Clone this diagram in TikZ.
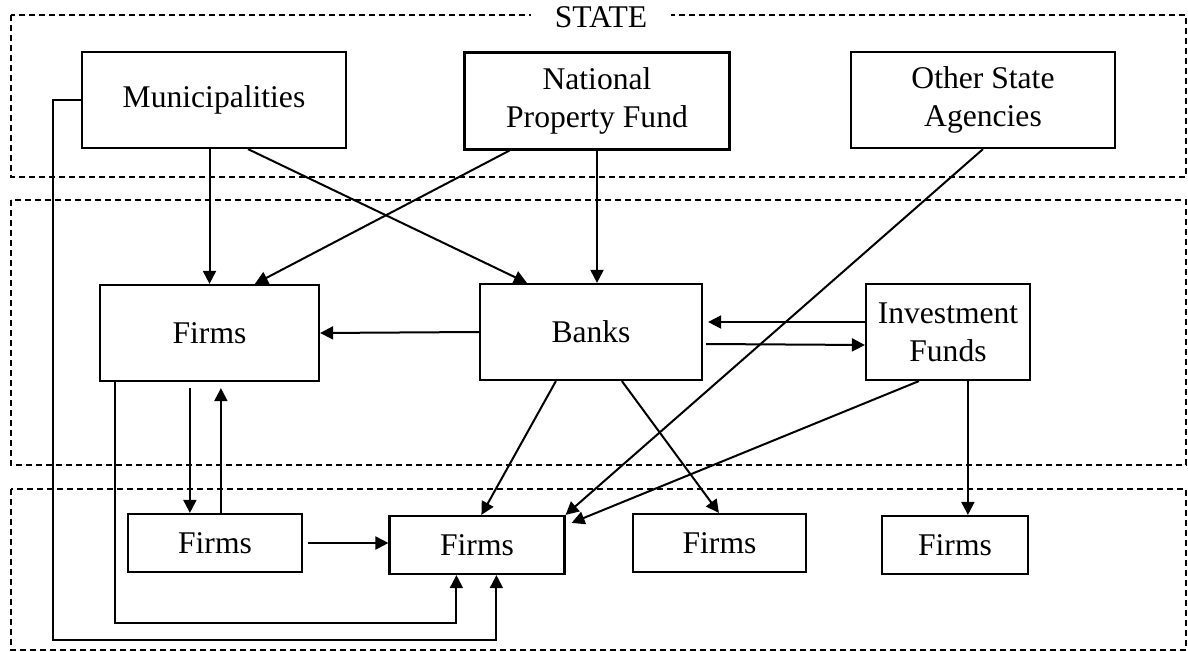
\documentclass[tikz,border=0pt]{standalone}
\usepackage{fontspec}
\setmainfont{Liberation Serif}
\usetikzlibrary{arrows.meta,calc}

\begin{document}
\begin{tikzpicture}[x=0.5pt,y=-0.5pt,line width=1pt,
  font=\fontsize{15.8}{19}\selectfont,
  box/.style={draw,rectangle,inner sep=0pt,align=center,line width=1.1pt},
  region/.style={draw,dash pattern=on 3pt off 2pt},
  arr/.style={-{Triangle[length=6.5pt,width=6.5pt]}}]
\useasboundingbox (0,0) rectangle (1188,652);

% dashed areas
\draw[region] (11,15) rectangle (1186,177);
\draw[region] (11,200) rectangle (1186,465);
\draw[region] (11,489) rectangle (1186,650);
\node[fill=white,inner xsep=12pt,inner ysep=1pt] (state) at (601,17) {STATE};

% state level
\node[box,minimum width=132pt,minimum height=48pt] (muni) at (214,100) {Municipalities};
\node[box,minimum width=132.5pt,minimum height=48.5pt] (npf) at (597,101) {National\\Property Fund};
\node[box,minimum width=132pt,minimum height=48pt] (osa) at (983,100) {Other State\\Agencies};

% middle level
\node[box,minimum width=109.5pt,minimum height=48pt] (firmsM) at (209.5,333) {Firms};
\node[box,minimum width=111pt,minimum height=48pt] (banks) at (591,332) {Banks};
\node[box,minimum width=82pt,minimum height=48pt] (invest) at (948,332) {Investment\\Funds};

% bottom level
\node[box,minimum width=87pt,minimum height=29pt] (fbA) at (215,543) {Firms};
\node[box,minimum width=87.5pt,minimum height=29pt] (fbB) at (477,545) {Firms};
\node[box,minimum width=86.5pt,minimum height=29pt] (fbC) at (719.5,543) {Firms};
\node[box,minimum width=73pt,minimum height=29pt] (fbD) at (955,545) {Firms};

% from the state
\draw[arr] (muni.south -| firmsM.north) -- (firmsM.north);
\draw[arr] ($(muni.south)+(34,0)$) -- ($(banks.north west)+(48,0)$);
\draw[arr] ($(npf.south west)+(46,0)$) -- ($(firmsM.north west)+(156,0)$);
\draw[arr] (npf.south) -- (banks.north -| npf.south);
\draw[arr] (osa.south) -- (fbB.north east);

% middle level links
\draw[arr] (banks.west) -- (firmsM.east);
\draw[arr] ($(invest.west)+(0,-10)$) -- ($(banks.east)+(5,-10)$);
\draw[arr] ($(banks.east)+(3,12)$) -- ($(invest.west)+(0,13)$);

% down to the bottom level
\draw[arr] ($(banks.south west)+(77,0)$) -- ($(fbB.north west)+(93,0)$);
\draw[arr] ($(banks.south west)+(143,0)$) -- ($(fbC.north west)+(87,0)$);
\draw[arr] ($(invest.south west)+(54,0)$) -- ($(fbB.north east)+(6,8)$);
\draw[arr] ($(invest.south west)+(103,0)$) coordinate (ivd) -- (ivd |- fbD.north);
\draw[arr] ($(firmsM.south west)+(91,6)$) -- ($(fbA.north west)+(63,0)$);
\draw[arr] ($(fbA.north west)+(94,0)$) -- ($(firmsM.south west)+(122,6)$);
\draw[arr] ($(fbA.east)+(5,0)$) -- (fbA.east -| fbB.west);
\draw[arr] ($(firmsM.south west)+(16,0)$) -- ++(0,241) -| ($(fbB.south west)+(68,0)$);
\draw[arr] (muni.west) -- ++(-28,0) -- ++(0,540) -| ($(fbB.south west)+(108,0)$);

\end{tikzpicture}
\end{document}
